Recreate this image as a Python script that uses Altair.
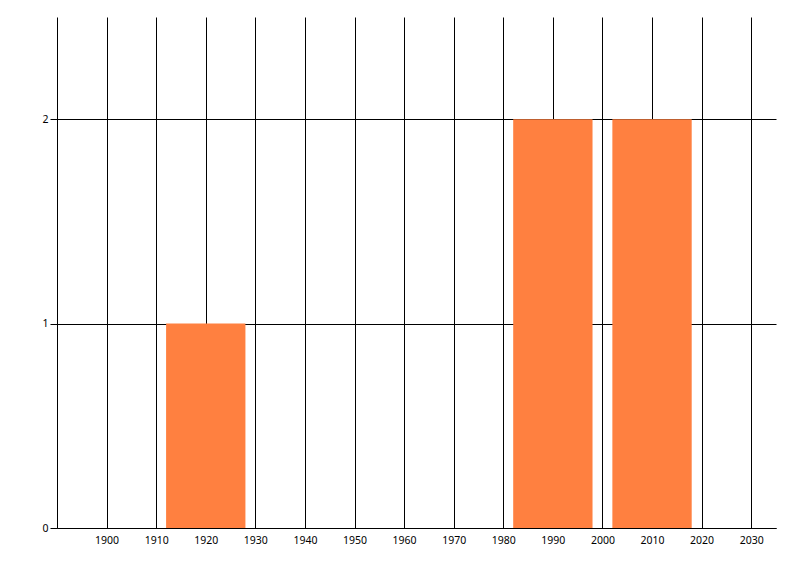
import altair as alt
import pandas as pd

years = [1920, 1990, 2010]
counts = [1, 2, 2]
x_ticks = list(range(1900, 2031, 10))
y_ticks = [0, 1, 2]
half_width = 8

df = pd.DataFrame({"year": years, "count": counts})

base = alt.Chart(df).transform_calculate(
    x0=f"datum.year - {half_width}", x1=f"datum.year + {half_width}"
)

bars = base.mark_rect(color="#FF8040", opacity=1).encode(
    x=alt.X("x0:Q", scale=alt.Scale(domain=[1890, 2035], nice=False, zero=False),
            axis=alt.Axis(values=x_ticks, title=None, format="d", ticks=False,
                          grid=True, gridColor="black", gridOpacity=1, gridWidth=1,
                          domainColor="black", labelPadding=7, labelFont="Noto Sans",
                          labelFontSize=10.5, labelColor="black", zindex=0)),
    x2="x1:Q",
    y=alt.Y("count:Q", scale=alt.Scale(domain=[0, 2.5], nice=False),
            axis=alt.Axis(values=y_ticks, title=None, ticks=True, tickSize=7,
                          tickColor="black", grid=True, gridColor="black",
                          gridOpacity=1, domainColor="black", labelPadding=2,
                          labelFont="Noto Sans", labelFontSize=10.5,
                          labelColor="black", zindex=0)),
    y2=alt.datum(0),
)

chart = bars.properties(
    width=719, height=511,
    background="white",
    autosize=alt.AutoSizeParams(type="none"),
    padding={"left": 49, "top": 9, "right": 8, "bottom": 40},
).configure_view(stroke=None, strokeWidth=0)

chart.save("out.html", embed_options={"renderer": "svg", "actions": False})
